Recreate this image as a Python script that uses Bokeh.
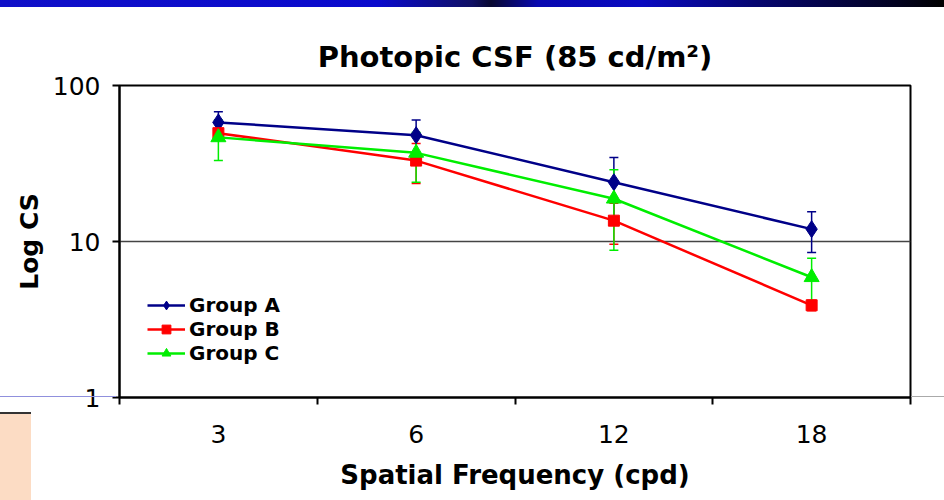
from bokeh.plotting import figure
from bokeh.layouts import column
from bokeh.models import (Range1d, FixedTicker, Whisker, ColumnDataSource, Legend,
                          LegendItem, TeeHead, NumeralTickFormatter, Div)
from bokeh.embed import file_html
from bokeh.resources import INLINE

# ---------------- data ----------------
categories = ["3", "6", "12", "18"]
group_a = [58, 48, 24, 12]
group_a_err = [10, 12, 10.5, 3.5]
group_b = [49.5, 33, 13.6, 3.9]
group_b_err = [3, 9.5, 4, 0.3]
group_c = [46.5, 37, 18.8, 5.9]
group_c_err = [13.5, 13, 10, 1.9]
y_ticks = [1, 10, 100]

FONT = "DejaVu Sans"
xs = list(range(len(categories)))

BANNER_H = 7

p = figure(width=944, height=500 - BANNER_H, y_axis_type="log",
           x_range=Range1d(-0.5, len(categories) - 0.5), y_range=Range1d(1, 100),
           output_backend="svg", toolbar_location=None,
           min_border_left=119, min_border_right=34,
           min_border_top=85 - BANNER_H, min_border_bottom=103)
p.background_fill_color = "white"
p.border_fill_color = "white"
p.border_fill_alpha = 0
p.outline_line_color = "black"
p.outline_line_width = 2

p.title.text = "Photopic CSF (85 cd/m\u00b2)"
p.title.text_font = FONT
p.title.text_font_size = "29px"
p.title.text_font_style = "bold"
p.title.align = "center"
p.title.text_color = "black"
p.title.standoff = 24

# x axis: labels at category centres, tick marks at category boundaries
xa = p.xaxis[0]
xa.ticker = FixedTicker(ticks=xs, minor_ticks=[i - 0.5 for i in range(len(categories) + 1)])
xa.major_label_overrides = {i: c for i, c in enumerate(categories)}
xa.major_tick_out = 0
xa.major_tick_in = 0
xa.minor_tick_out = 7
xa.minor_tick_in = 0
xa.minor_tick_line_color = "black"
xa.minor_tick_line_width = 2
xa.axis_line_width = 2
xa.axis_line_color = "black"
xa.major_label_text_font = FONT
xa.major_label_text_font_size = "25px"
xa.major_label_text_color = "black"
xa.major_label_standoff = 20
xa.axis_label = "Spatial Frequency (cpd)"
xa.axis_label_text_font = FONT
xa.axis_label_text_font_size = "26px"
xa.axis_label_text_font_style = "bold"
xa.axis_label_text_color = "black"
xa.axis_label_standoff = 14

ya = p.yaxis[0]
ya.ticker = FixedTicker(ticks=y_ticks, minor_ticks=[])
ya.formatter = NumeralTickFormatter(format="0")
ya.major_tick_out = 7
ya.major_tick_in = 0
ya.major_tick_line_width = 2
ya.major_tick_line_color = "black"
ya.minor_tick_line_color = None
ya.axis_line_width = 2
ya.axis_line_color = "black"
ya.major_label_text_font = FONT
ya.major_label_text_font_size = "25px"
ya.major_label_text_color = "black"
ya.major_label_standoff = 12
ya.axis_label = "Log CS"
ya.axis_label_text_font = FONT
ya.axis_label_text_font_size = "25px"
ya.axis_label_text_font_style = "bold"
ya.axis_label_text_color = "black"
ya.axis_label_standoff = 6

p.xgrid.visible = False
p.ygrid.ticker = FixedTicker(ticks=[10])
p.ygrid.grid_line_color = "#444444"
p.ygrid.grid_line_width = 1.5

series = [
    ("Group A", group_a, group_a_err, "#000088", "diamond", 17),
    ("Group B", group_b, group_b_err, "#ff0000", "square", 11),
    ("Group C", group_c, group_c_err, "#00ee00", "triangle", 15),
]

items = []
for name, vals, errs, color, marker, size in series:
    src = ColumnDataSource(dict(
        x=xs, y=vals,
        upper=[v + e for v, e in zip(vals, errs)],
        lower=[v - e for v, e in zip(vals, errs)],
    ))
    w = Whisker(source=src, base="x", upper="upper", lower="lower",
                line_color=color, line_width=1.5, level="underlay",
                upper_head=TeeHead(size=9, line_color=color, line_width=1.5),
                lower_head=TeeHead(size=9, line_color=color, line_width=1.5))
    p.add_layout(w)
    ln = p.line("x", "y", source=src, line_color=color, line_width=2.5)
    sc = p.scatter("x", "y", source=src, marker=marker, size=size,
                   fill_color=color, line_color=color)
    items.append(LegendItem(label=name, renderers=[ln, sc]))

legend = Legend(items=items, location=(28, 32), background_fill_alpha=0,
                border_line_color=None, padding=0, margin=0, spacing=0,
                glyph_width=38, glyph_height=22, label_height=22,
                label_text_font=FONT, label_text_font_size="20px",
                label_text_font_style="bold", label_text_color="black",
                label_standoff=4)
p.add_layout(legend, "center")

# ---------------- slide decoration around the chart ----------------
banner = Div(text="", width=944, height=BANNER_H, margin=0,
             styles={"background": "linear-gradient(to right, #1010c8 0%, #0a0acd 40%, "
                                   "#101064 50%, #080830 52%, #0808b0 57%, #0a0ac0 68%, "
                                   "#060670 80%, #020220 95%, #000000 100%)"})
# bottom strip of the slide (note box and guide lines), overlapping the chart's empty corner
strip_h = 500 - 396
strip = Div(text="", width=944, height=strip_h, margin=(-strip_h, 0, 0, 0),
            styles={"pointer-events": "none",
                    "background":
                        "linear-gradient(#9090dd, #9090dd) 0px 0px / 116px 1px no-repeat, "
                        "linear-gradient(#aaaaaa, #aaaaaa) 911px 0px / 33px 1px no-repeat, "
                        "linear-gradient(#333333, #333333) 0px 16px / 31px 2px no-repeat, "
                        "linear-gradient(#fcdcc4, #fcdcc4) 0px 18px / 31px 86px no-repeat"})

layout = column(banner, p, strip, spacing=0)
open("out.html", "w").write(file_html(layout, INLINE))
